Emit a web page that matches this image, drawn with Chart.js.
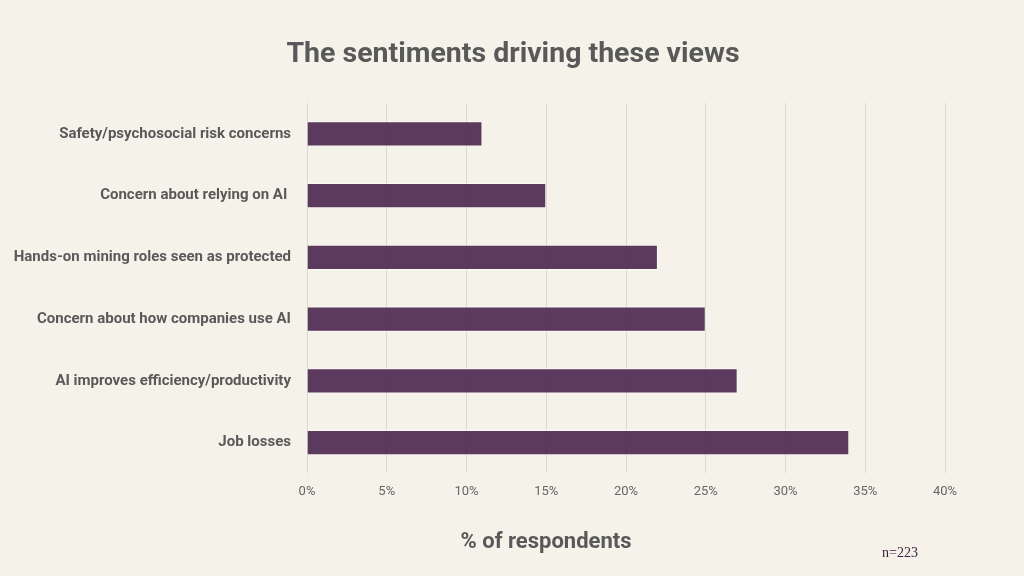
<!DOCTYPE html>
<html>
<head>
<meta charset="utf-8">
<script src="https://cdn.jsdelivr.net/npm/chart.js@4"></script>
<style>
  html, body { margin: 0; padding: 0; background: #f5f2ea; }
  #wrap { width: 1024px; height: 576px; }
</style>
</head>
<body>
<div id="wrap"><canvas id="sentimentChart" width="1024" height="576"></canvas></div>
<script>
// chart data
var categories = [
  "Safety/psychosocial risk concerns",
  "Concern about relying on AI ",
  "Hands-on mining roles seen as protected",
  "Concern about how companies use AI",
  "AI improves efficiency/productivity",
  "Job losses"
];
var shares = [11, 15, 22, 25, 27, 34];
var tickValues = [0, 5, 10, 15, 20, 25, 30, 35, 40];

var textGrey = "#595959";

// title, axis title and sample size drawn straight on the canvas
var extraText = {
  id: "extraText",
  afterDraw: function (chart) {
    var ctx = chart.ctx;
    ctx.save();
    ctx.fillStyle = textGrey;
    ctx.textAlign = "center";
    ctx.textBaseline = "middle";
    ctx.font = "bold 28.5px Roboto";
    ctx.fillText("The sentiments driving these views", 513, 55);
    ctx.font = "bold 22px Roboto";
    ctx.fillText("% of respondents", 546, 542);
    ctx.fillStyle = "#3b1f3e";
    ctx.font = "14px 'Liberation Serif'";
    ctx.fillText("n=223", 900, 553);
    ctx.restore();
  }
};

var ctx = document.getElementById("sentimentChart").getContext("2d");
new Chart(ctx, {
  type: "bar",
  data: {
    labels: categories,
    datasets: [{
      label: "% of respondents",
      data: shares,
      backgroundColor: "rgba(75, 38, 78, 0.9)",
      borderColor: "rgba(255, 255, 255, 0.5)",
      borderWidth: 1,
      categoryPercentage: 1,
      barPercentage: 0.41
    }]
  },
  options: {
    indexAxis: "y",
    responsive: false,
    animation: false,
    layout: { padding: { top: 103, right: 79, bottom: 65, left: 0 } },
    plugins: {
      legend: { display: false },
      tooltip: { enabled: false }
    },
    scales: {
      x: {
        min: 0,
        max: 40,
        afterBuildTicks: function (axis) {
          axis.ticks = tickValues.map(function (v) { return { value: v }; });
        },
        grid: { color: "#dcd9d2", drawTicks: false },
        border: { display: false },
        ticks: {
          padding: 11,
          color: "#666666",
          font: { family: "Roboto", size: 13 },
          callback: function (v) { return v + "%"; }
        }
      },
      y: {
        afterFit: function (axis) { axis.width = 307; },
        grid: { display: false, drawTicks: false },
        border: { display: false },
        ticks: {
          padding: 16,
          color: textGrey,
          font: { family: "Roboto", size: 15, weight: "bold" }
        }
      }
    }
  },
  plugins: [extraText]
});
</script>
</body>
</html>
